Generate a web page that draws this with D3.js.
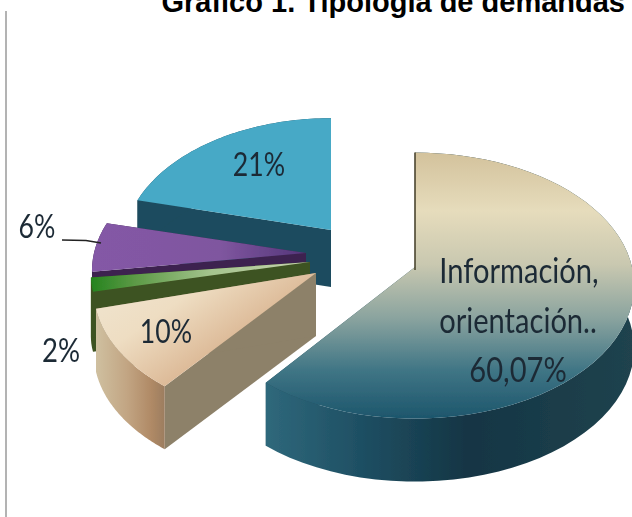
<!DOCTYPE html>
<html>
<head>
<meta charset="utf-8">
<script src="https://cdn.jsdelivr.net/npm/d3@7"></script>
<style>
  html, body { margin: 0; padding: 0; background: #fff; overflow: hidden; }
  svg { display: block; }
</style>
</head>
<body>
<div id="chart"></div>
<script>
var width = 632,
  height = 517;

// clockwise from the top
var categories = [ "Información, orientación..", "Otros 10", "Otros 2", "Otros 6", "Otros 21" ];
var values = [ 60.07, 10, 2, 6, 21 ];

// how each exploded slice sits on the page
var sliceX = [ 415, 316, 310, 306, 331 ];
var sliceY = [ 267, 273, 262, 253, 230 ];
var radiusX = [ 217, 220, 217, 212, 206 ];
var radiusY = [ 133, 130, 108, 130, 130 ];
var depth = [ 63, 63, 60, 12, 57 ];
var perspective = 0.14;

var topFill = [ "url(#bigTop)", "url(#tanTop)", "url(#greenTop)", "url(#purpleTop)", "#46a9c6" ];
var outerFill = [ "url(#bigWall)", "url(#tanWall)", "#3e5220", "#3c2350", "#1f4c5e" ];
var cutFill = [ "#1f4c5e", "#8d8169", "#3e5220", "#3c2350", "#1f4c5e" ];
var drawOrder = [ 4, 3, 2, 1, 0 ];

var svg = d3.select( "#chart" )
  .append( "svg" )
  .attr( "width", width )
  .attr( "height", height );

var defs = svg.append( "defs" );

defs.append( "filter" )
  .attr( "id", "soft" )
  .append( "feGaussianBlur" )
  .attr( "stdDeviation", 0.5 );

function gradient( id, x2, y2, stops ){
  var g = defs.append( "linearGradient" )
    .attr( "id", id )
    .attr( "x1", 0 ).attr( "y1", 0 )
    .attr( "x2", x2 ).attr( "y2", y2 );
  stops.forEach( function(s){
    g.append( "stop" ).attr( "offset", s[0] ).attr( "stop-color", s[1] );
  });
}

gradient( "bigTop", 0, 1, [ [0, "#d3c29c"], [0.22, "#e6dcbc"], [0.42, "#c9c8b0"], [0.62, "#8ba49f"], [0.82, "#3f7585"], [1, "#1d566c"] ] );
gradient( "bigWall", 1, 0, [ [0, "#2f687b"], [0.25, "#1f5064"], [0.55, "#143544"], [1, "#20434e"] ] );
gradient( "tanTop", 0.8, 0.6, [ [0, "#f0e6d2"], [0.45, "#eeddc2"], [1, "#d6ad88"] ] );
gradient( "tanWall", 1, 0, [ [0, "#cfc0a0"], [0.45, "#c2a583"], [0.8, "#b08a66"], [1, "#9c7d60"] ] );
gradient( "greenTop", 1, 0, [ [0, "#25831e"], [0.2, "#5c9a46"], [0.55, "#a5c48e"], [1, "#c7d3b0"] ] );
gradient( "purpleTop", 1, 0, [ [0, "#8458a6"], [0.6, "#7f569f"], [1, "#54367a"] ] );

// frame line on the left
svg.append( "line" )
  .attr( "x1", 6 ).attr( "x2", 6 )
  .attr( "y1", 11 ).attr( "y2", height )
  .attr( "stroke", "#9a9a9a" )
  .attr( "stroke-width", 1.5 );

// the title runs off the top edge in the original too
svg.append( "text" )
  .attr( "x", 625 )
  .attr( "y", 11.5 )
  .attr( "text-anchor", "end" )
  .attr( "font-family", "Liberation Sans" )
  .attr( "font-weight", "bold" )
  .attr( "font-size", 29 )
  .attr( "fill", "#000" )
  .text( "Gráfico 1. Tipología de demandas" );

var arcs = d3.pie().sort( null )( values );

// ellipse with a bit of perspective: the near half comes out bigger
function project( i, angle, r, drop ){
  var x = Math.sin( angle ) * r,
    y = -Math.cos( angle ) * r,
    k = 1 + perspective * y;
  return [ sliceX[i] + radiusX[i] * x * k, sliceY[i] + radiusY[i] * y * k + drop ];
}

var line = d3.line();

function arcPoints( i, drop ){
  var a = arcs[i];
  return d3.range( 0, 61 ).map( function(n){
    return project( i, a.startAngle + ( a.endAngle - a.startAngle ) * n / 60, 1, drop );
  });
}

var pie = svg.append( "g" ).attr( "filter", "url(#soft)" );

drawOrder.forEach( function(i){
  var g = pie.append( "g" );
  var rim = arcPoints( i, 0 ),
    rimLow = arcPoints( i, depth[i] );
  var apex = project( i, 0, 0, 0 ),
    apexLow = project( i, 0, 0, depth[i] );

  // the two cut faces
  g.append( "path" )
    .attr( "d", line( [ apex, rim[0], rimLow[0], apexLow ] ) + "Z" )
    .attr( "fill", cutFill[i] );
  g.append( "path" )
    .attr( "d", line( [ apex, rim[60], rimLow[60], apexLow ] ) + "Z" )
    .attr( "fill", cutFill[i] );

  // outer wall
  g.append( "path" )
    .attr( "d", line( rim.concat( rimLow.slice().reverse() ) ) + "Z" )
    .attr( "fill", outerFill[i] );

  // top face
  g.append( "path" )
    .attr( "d", line( [ apex ].concat( rim ) ) + "Z" )
    .attr( "fill", topFill[i] );
});

// dark edge down the start of the big slice
pie.append( "path" )
  .attr( "d", line( [ project( 0, arcs[0].startAngle, 1, 0 ), project( 0, 0, 0, 3 ) ] ) )
  .attr( "stroke", "#4b4630" )
  .attr( "stroke-width", 1.6 )
  .attr( "fill", "none" );

// leader of the 6% label
svg.append( "path" )
  .attr( "d", line( [ [62, 240], [86, 240.5], [101, 243] ] ) )
  .attr( "stroke", "#222" )
  .attr( "stroke-width", 1.4 )
  .attr( "fill", "none" );

var labelText = [ "21%", "6%", "2%", "10%", "Información,", "orientación..", "60,07%" ];
var labelX = [ 259, 37, 61, 166, 519, 518, 518 ];
var labelY = [ 176, 238, 362, 343, 283, 333, 382 ];
var labelSize = [ 29, 29, 29, 29, 30, 30, 30 ];
var labelScaleX = [ 0.92, 0.92, 0.95, 0.92, 0.97, 0.97, 0.97 ];
var labelScaleY = [ 1.12, 1.12, 1.12, 1.12, 1.15, 1.15, 1.15 ];

svg.append( "g" )
  .attr( "filter", "url(#soft)" )
  .selectAll( "text" )
  .data( labelText )
  .enter()
  .append( "text" )
  .attr( "transform", function(d, i){
    return "translate(" + labelX[i] + "," + labelY[i] + ") scale(" + labelScaleX[i] + "," + labelScaleY[i] + ")";
  })
  .attr( "font-size", function(d, i){ return labelSize[i]; } )
  .attr( "text-anchor", "middle" )
  .attr( "font-family", "Lato" )
  .attr( "fill", "#1c2a36" )
  .text( function(d){ return d; } );
</script>
</body>
</html>
